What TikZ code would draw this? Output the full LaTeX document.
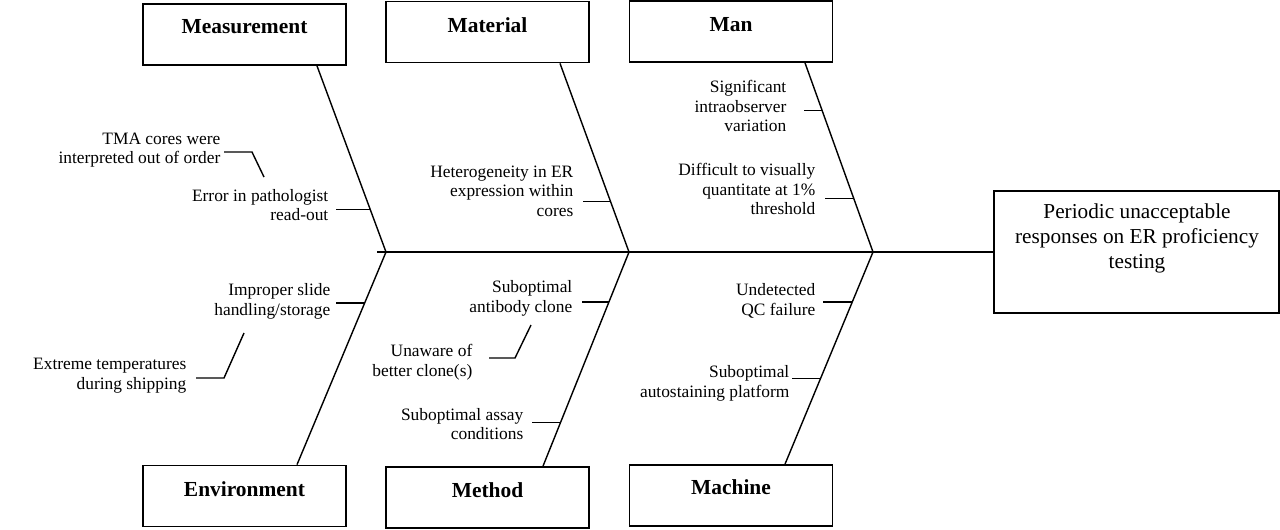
\documentclass[tikz,border=0pt]{standalone}
\usepackage{fontspec}
\setmainfont{Liberation Serif}
\usetikzlibrary{calc}

\tikzset{
  causebox/.style={draw, line width=1pt, minimum width=4.06cm, minimum height=1.22cm, inner sep=0pt},
  causetitle/.style={font=\fontsize{12.2}{14}\selectfont\bfseries, anchor=base, inner sep=0pt},
  reason/.style={font=\fontsize{9.9}{11.2}\selectfont, align=right, anchor=east, inner sep=0pt}
}

\begin{document}
\begin{tikzpicture}[x=0.02cm, y=-0.02cm, line width=0.8pt]
	\useasboundingbox (0,0) rectangle (1280,529);

	% effect
	\node[draw, line width=1pt, minimum width=5.7cm, minimum height=2.44cm, inner sep=0pt] (effect) at (1136.5,252) {};
	\node[font=\fontsize{12.1}{14.2}\selectfont, align=center, inner sep=0pt] (effectT) at (1137,238) {Periodic unacceptable\\responses on ER proficiency\\testing};

	% categories
	\node[causebox] (meas) at (244.5,34.5) {};
	\node[causebox] (mat)  at (487.5,32) {};
	\node[causebox] (man)  at (731,31.5) {};
	\node[causebox] (env)  at (244.5,496) {};
	\node[causebox] (meth) at (487.5,497.5) {};
	\node[causebox] (mach) at (731,495.5) {};
	\node[causetitle] (measT) at (244.5,33) {Measurement};
	\node[causetitle] (matT)  at (487.5,32) {Material};
	\node[causetitle] (manT)  at (731,31) {Man};
	\node[causetitle] (envT)  at (244.5,496) {Environment};
	\node[causetitle] (methT) at (487.5,497) {Method};
	\node[causetitle] (machT) at (731,494) {Machine};

	% spine and bones
	\coordinate (j1) at (386,252);
	\coordinate (j2) at (629,252);
	\coordinate (j3) at (873,252);
	\coordinate (b1) at (317,0 |- meas.south);
	\coordinate (b2) at (560,0 |- mat.south);
	\coordinate (b3) at (805,0 |- man.south);
	\coordinate (b4) at (297,0 |- env.north);
	\coordinate (b5) at (543,0 |- meth.north);
	\coordinate (b6) at (785,0 |- mach.north);
	\draw (377,252) -- (effect.west);
	\draw (b1) -- (j1) -- (b4);
	\draw (b2) -- (j2) -- (b5);
	\draw (b3) -- (j3) -- (b6);

	% causes
	\node[reason] (tma)  at (221,150) {TMA cores were\\interpreted out of order};
	\node[reason] (err)  at (329,205) {Error in pathologist\\read-out};
	\node[reason] (het)  at (574,191) {Heterogeneity in ER\\expression within\\cores};
	\node[reason] (sig)  at (787,106) {Significant\\intraobserver\\variation};
	\node[reason] (dif)  at (816,189) {Difficult to visually\\quantitate at 1\%\\threshold};
	\node[reason] (imp)  at (331,301.5) {Improper slide\\handling/storage};
	\node[reason] (ext)  at (187,375.5) {Extreme temperatures\\during shipping};
	\node[reason] (abc)  at (573,298) {Suboptimal\\antibody clone};
	\node[reason] (unaw) at (473,362) {Unaware of\\better clone(s)};
	\node[reason] (asy)  at (524,424) {Suboptimal assay\\conditions};
	\node[reason] (qc)   at (816,301) {Undetected\\QC failure};
	\node[reason] (plat) at (790,383) {Suboptimal\\autostaining platform};

	\coordinate (e1) at ($(b1)!0.770!(j1)$);
	\coordinate (h1) at ($(b2)!0.732!(j2)$);
	\coordinate (s1) at ($(b3)!0.251!(j3)$);
	\coordinate (d1) at ($(b3)!0.717!(j3)$);
	\coordinate (i1) at ($(j1)!0.239!(b4)$);
	\coordinate (a1) at ($(j2)!0.233!(b5)$);
	\coordinate (c1) at ($(j2)!0.795!(b5)$);
	\coordinate (q1) at ($(j3)!0.235!(b6)$);
	\coordinate (p1) at ($(j3)!0.596!(b6)$);
	\draw ($(e1 -| err.east)+(7,0)$) -- (e1);
	\draw ($(h1 -| het.east)+(9,0)$) -- (h1);
	\draw ($(s1 -| sig.east)+(17,0)$) -- (s1);
	\draw ($(d1 -| dif.east)+(9,0)$) -- (d1);
	\draw ($(i1 -| imp.east)+(5,0)$) -- (i1);
	\draw ($(a1 -| abc.east)+(9,0)$) -- (a1);
	\draw ($(c1 -| asy.east)+(8,0)$) -- (c1);
	\draw ($(q1 -| qc.east)+(7,0)$) -- (q1);
	\draw ($(p1 -| plat.east)+(2,0)$) -- (p1);

	% sub-causes
	\draw (tma.east) ++(3,2) -- ++(28,0) -- ++(12,25);
	\draw (ext.east) ++(9,2.5) -- ++(28,0) -- ++(20,-45);
	\draw (unaw.east) ++(16,-4) -- ++(26,0) -- ++(16,-33);
\end{tikzpicture}
\end{document}
